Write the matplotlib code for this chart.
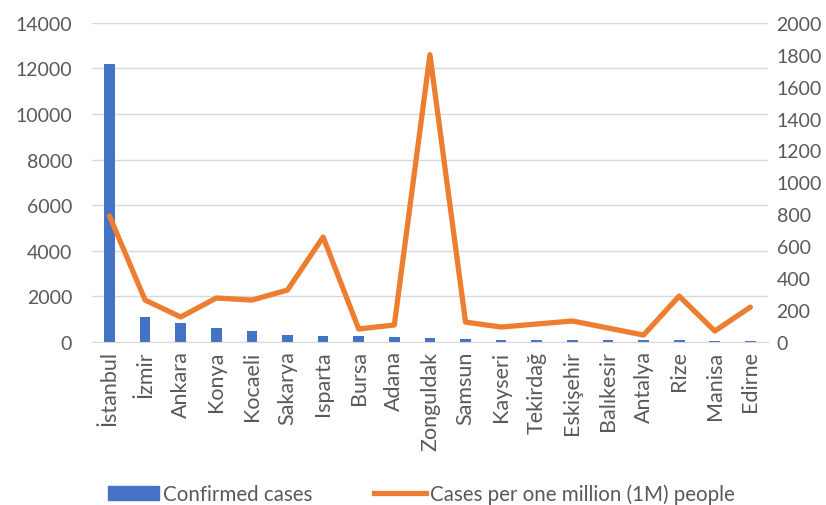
import matplotlib.pyplot as plt
from matplotlib.lines import Line2D
from matplotlib.patches import Patch

plt.rcParams["font.family"] = ["Lato", "DejaVu Sans"]

cities = ["İstanbul", "İzmir", "Ankara", "Konya", "Kocaeli", "Sakarya", "Isparta",
          "Bursa", "Adana", "Zonguldak", "Samsun", "Kayseri", "Tekirdağ", "Eskişehir",
          "Balıkesir", "Antalya", "Rize", "Manisa", "Edirne"]
confirmed = [12200, 1100, 850, 600, 500, 330, 280, 250, 210, 160, 150, 110, 100,
             90, 80, 70, 70, 65, 55]
per_million = [790, 263, 157, 276, 263, 326, 658, 82, 107, 1800, 125, 94, 113,
               132, 88, 44, 288, 69, 219]

blue = "#4472C4"
orange = "#ED7D31"
grey = "#595959"

fig = plt.figure(figsize=(8.26, 5.06), dpi=100)
ax = fig.add_axes([0.111, 0.322, 0.819, 0.631])
ax2 = ax.twinx()

x = range(len(cities))
ax.bar(x, confirmed, width=0.3, color=blue, zorder=2)
ax2.plot(x, per_million, color=orange, lw=3.8, solid_joinstyle="round",
         solid_capstyle="round", zorder=3)

ax.set_xlim(-0.5, len(cities) - 0.5)
ax.set_ylim(0, 14000)
ax.set_yticks(range(0, 14001, 2000))
ax2.set_ylim(0, 2000)
ax2.set_yticks(range(0, 2001, 200))
ax.set_xticks(list(x))
ax.set_xticklabels(cities, rotation=90, fontsize=15.5, color=grey)

ax.grid(axis="y", color="#D9D9D9", lw=1, zorder=0)
ax.set_axisbelow(True)
for a in (ax, ax2):
    for s in a.spines.values():
        s.set_visible(False)
    a.tick_params(length=0, labelsize=14, colors=grey)
ax.tick_params(axis="x", labelsize=15.5, pad=6)
ax.spines["bottom"].set_visible(True)
ax.spines["bottom"].set_color("#D9D9D9")
ax.tick_params(axis="y", pad=14)
ax2.tick_params(axis="y", pad=6)

handles = [Patch(color=blue, label="Confirmed cases"),
           Line2D([], [], color=orange, lw=3.8, label="Cases per one million (1M) people")]
fig.legend(handles=handles, loc="lower center", bbox_to_anchor=(0.51, -0.035), ncol=2,
           frameon=False, fontsize=14.8, labelcolor=grey, handlelength=2.5,
           handleheight=0.7, columnspacing=3.0, handletextpad=0.2)

fig.savefig("out.png", dpi=100)
